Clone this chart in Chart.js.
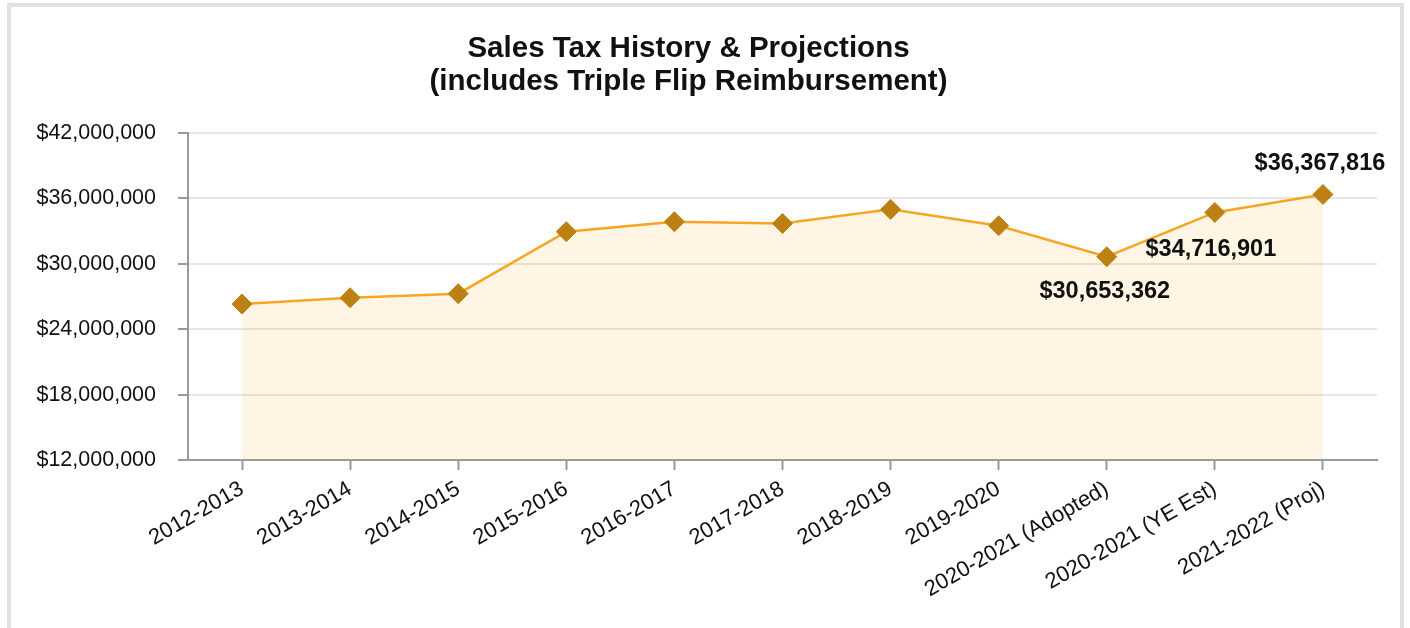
<!DOCTYPE html>
<html>
<head>
<meta charset="utf-8">
<script src="https://cdn.jsdelivr.net/npm/chart.js@4"></script>
<style>
  html, body { margin: 0; padding: 0; background: #fff; overflow: hidden; }
  .frame { position: absolute; left: 7px; top: 3px; width: 1389px; height: 700px; border: 4px solid #e1e1e1; }
  #salesChart { position: absolute; left: 0; top: 0; }
</style>
</head>
<body>
<div class="frame"></div>
<canvas id="salesChart" width="1410" height="628"></canvas>
<script>
// Dataset
const years = ["2012-2013", "2013-2014", "2014-2015", "2015-2016", "2016-2017", "2017-2018",
    "2018-2019", "2019-2020", "2020-2021 (Adopted)", "2020-2021 (YE Est)", "2021-2022 (Proj)"];
const salesTax = [26310000, 26890000, 27260000, 32950000, 33860000, 33700000,
    35000000, 33500000, 30653362, 34716901, 36367816];
const yTicks = [12000000, 18000000, 24000000, 30000000, 36000000, 42000000];

const FONT = "'Liberation Sans', Arial, sans-serif";
const money = v => '$' + Math.round(v).toLocaleString('en-US');

// draws the value labels on the last three points
const valueLabels = {
    id: 'valueLabels',
    afterDatasetsDraw(chart, args, opts) {
        const ctx = chart.ctx;
        const meta = chart.getDatasetMeta(0);
        ctx.save();
        ctx.font = 'bold 23.5px ' + FONT;
        ctx.fillStyle = '#111';
        ctx.textAlign = 'center';
        ctx.textBaseline = 'middle';
        Object.keys(opts.offsets).forEach(i => {
            const pt = meta.data[i];
            const off = opts.offsets[i];
            ctx.fillText(money(salesTax[i]), pt.x + off[0], pt.y + off[1]);
        });
        ctx.restore();
    }
};

const ctx = document.getElementById('salesChart').getContext('2d');

const salesChart = new Chart(ctx, {
    type: 'line',
    data: {
        labels: years,
        datasets: [{
            label: 'Sales Tax',
            data: salesTax,
            borderColor: '#F6A623',
            borderWidth: 2.5,
            backgroundColor: 'rgba(247,170,40,0.12)',
            fill: 'start',
            tension: 0,
            pointStyle: 'rectRot',
            pointRadius: 10,
            pointBorderWidth: 1,
            pointBackgroundColor: '#BD8012',
            pointBorderColor: '#BD8012'
        }]
    },
    options: {
        responsive: false,
        animation: false,
        layout: { padding: { left: 0, right: 33, top: 0, bottom: 0 } },
        plugins: {
            legend: { display: false },
            tooltip: { enabled: false },
            title: {
                display: true,
                text: ['Sales Tax History & Projections', '(includes Triple Flip Reimbursement)'],
                color: '#111',
                font: { family: FONT, size: 29.5, weight: 'bold', lineHeight: 1.12 },
                padding: { top: 32, bottom: 35 }
            },
            valueLabels: {
                offsets: { 8: [-2, 35], 9: [-4, 37], 10: [-3, -31] }
            }
        },
        scales: {
            x: {
                offset: true,
                afterFit: s => { s.height = 168; },
                grid: { drawOnChartArea: false, drawTicks: true, tickLength: 10, tickColor: '#9a9a9a', tickWidth: 2 },
                border: { color: '#9a9a9a', width: 2 },
                ticks: {
                    color: '#111',
                    font: { family: FONT, size: 22 },
                    minRotation: 30,
                    maxRotation: 30,
                    padding: 6,
                    autoSkip: false
                }
            },
            y: {
                min: 12000000,
                max: 42000000,
                afterFit: s => { s.width = 188; },
                afterBuildTicks: s => { s.ticks = yTicks.map(v => ({ value: v })); },
                grid: { color: '#e6e6e6', lineWidth: 2, tickLength: 10, tickColor: '#9a9a9a', tickWidth: 2 },
                border: { color: '#9a9a9a', width: 2 },
                ticks: {
                    color: '#111',
                    font: { family: FONT, size: 21.5 },
                    padding: 22,
                    callback: v => money(v)
                }
            }
        }
    },
    plugins: [valueLabels]
});
</script>
</body>
</html>
